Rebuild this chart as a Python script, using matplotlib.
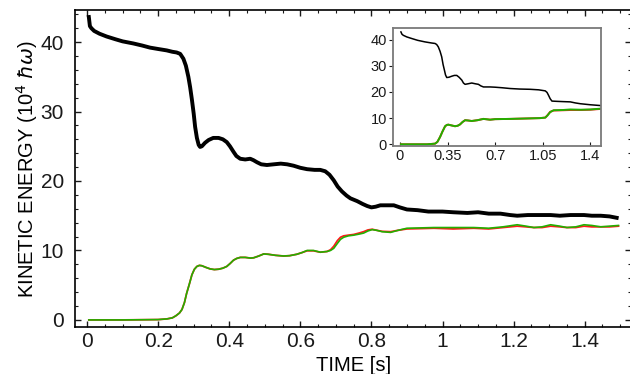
import numpy as np
import matplotlib
matplotlib.use("Agg")
from matplotlib import pyplot as plt
from matplotlib.ticker import MultipleLocator

plt.rcParams['font.family'] = ['Liberation Sans', 'DejaVu Sans']

# main panel: (time [s], kinetic energy [1e4 hbar*omega])
main_total = [
    (0.005, 43.6), (0.008, 42.3), (0.012, 42.0), (0.02, 41.6), (0.035, 41.2),
    (0.055, 40.8), (0.08, 40.4), (0.1, 40.1), (0.13, 39.8), (0.155, 39.5),
    (0.177, 39.2), (0.2, 39.0), (0.224, 38.8), (0.24, 38.6), (0.252, 38.5),
    (0.262, 38.3), (0.271, 37.6), (0.278, 36.6), (0.285, 35.0), (0.29, 33.5),
    (0.295, 31.7), (0.30, 29.7), (0.304, 27.8), (0.309, 26.2), (0.314, 25.2),
    (0.318, 24.9), (0.323, 25.0), (0.332, 25.5), (0.342, 25.9), (0.355, 26.2),
    (0.37, 26.2), (0.382, 26.0), (0.393, 25.6), (0.402, 25.0), (0.412, 24.2),
    (0.42, 23.6), (0.431, 23.2), (0.445, 23.1), (0.459, 23.2), (0.468, 23.0),
    (0.478, 22.7), (0.49, 22.4), (0.506, 22.3), (0.525, 22.4), (0.545, 22.5),
    (0.563, 22.4), (0.581, 22.2), (0.6, 21.9), (0.619, 21.7), (0.64, 21.6),
    (0.656, 21.6), (0.67, 21.4), (0.682, 20.9), (0.694, 20.1), (0.705, 19.2),
    (0.717, 18.5), (0.73, 17.9), (0.741, 17.5), (0.76, 17.1), (0.775, 16.7),
    (0.788, 16.4), (0.8, 16.2), (0.812, 16.3), (0.825, 16.5), (0.845, 16.5),
    (0.863, 16.5), (0.88, 16.2), (0.9, 15.9), (0.93, 15.8), (0.96, 15.6),
    (1.0, 15.6), (1.03, 15.5), (1.07, 15.4), (1.1, 15.5), (1.13, 15.3),
    (1.163, 15.3), (1.19, 15.1), (1.21, 15.0), (1.24, 15.1), (1.27, 15.1),
    (1.304, 15.1), (1.33, 15.0), (1.36, 15.1), (1.398, 15.1), (1.42, 15.0),
    (1.445, 15.0), (1.47, 14.9), (1.49, 14.7),
]

main_green = [
    (0.005, 0.0), (0.1, 0.0), (0.2, 0.05), (0.225, 0.15), (0.24, 0.3),
    (0.25, 0.6), (0.26, 1.0), (0.267, 1.5), (0.274, 2.5), (0.28, 3.8),
    (0.288, 5.2), (0.295, 6.5), (0.302, 7.3), (0.309, 7.7), (0.316, 7.85),
    (0.323, 7.8), (0.335, 7.55), (0.346, 7.35), (0.358, 7.25), (0.37, 7.3),
    (0.382, 7.45), (0.393, 7.7), (0.402, 8.1), (0.412, 8.6), (0.421, 8.85),
    (0.431, 9.0), (0.445, 9.0), (0.46, 8.9), (0.469, 8.95), (0.483, 9.2),
    (0.497, 9.5), (0.51, 9.45), (0.53, 9.3), (0.553, 9.2), (0.57, 9.25),
    (0.59, 9.45), (0.605, 9.7), (0.619, 10.0), (0.637, 10.0), (0.656, 9.75),
    (0.675, 9.85), (0.685, 10.0), (0.694, 10.3), (0.704, 11.0), (0.713, 11.6),
    (0.722, 11.9), (0.735, 12.1), (0.75, 12.2), (0.765, 12.35), (0.778, 12.5),
    (0.79, 12.8), (0.802, 13.0), (0.815, 12.9), (0.83, 12.7), (0.854, 12.6),
    (0.875, 12.9), (0.9, 13.2), (0.94, 13.25), (0.976, 13.3), (1.03, 13.3),
    (1.088, 13.3), (1.13, 13.2), (1.17, 13.4), (1.21, 13.7), (1.235, 13.5),
    (1.257, 13.3), (1.28, 13.4), (1.304, 13.7), (1.33, 13.5), (1.35, 13.3),
    (1.375, 13.4), (1.398, 13.7), (1.42, 13.6), (1.445, 13.4), (1.47, 13.5),
    (1.495, 13.6),
]

main_red = [
    (0.005, 0.0), (0.1, 0.0), (0.2, 0.05), (0.225, 0.15), (0.24, 0.3),
    (0.25, 0.6), (0.26, 1.0), (0.267, 1.5), (0.274, 2.5), (0.28, 3.8),
    (0.288, 5.2), (0.295, 6.5), (0.302, 7.3), (0.309, 7.7), (0.316, 7.85),
    (0.323, 7.8), (0.335, 7.55), (0.346, 7.35), (0.358, 7.25), (0.37, 7.3),
    (0.382, 7.45), (0.393, 7.7), (0.402, 8.1), (0.412, 8.6), (0.421, 8.85),
    (0.431, 9.0), (0.445, 9.0), (0.46, 8.9), (0.469, 8.95), (0.483, 9.2),
    (0.497, 9.5), (0.51, 9.45), (0.53, 9.3), (0.553, 9.2), (0.57, 9.25),
    (0.59, 9.45), (0.605, 9.7), (0.619, 9.95), (0.637, 9.95), (0.656, 9.75),
    (0.675, 9.85), (0.685, 10.1), (0.694, 10.6), (0.704, 11.4), (0.713, 11.9),
    (0.722, 12.1), (0.735, 12.2), (0.75, 12.3), (0.765, 12.5), (0.778, 12.7),
    (0.79, 12.95), (0.802, 13.05), (0.815, 12.9), (0.83, 12.75), (0.854, 12.7),
    (0.875, 12.9), (0.9, 13.1), (0.94, 13.15), (0.976, 13.2), (1.03, 13.1),
    (1.088, 13.2), (1.13, 13.1), (1.17, 13.3), (1.21, 13.5), (1.235, 13.4),
    (1.257, 13.3), (1.28, 13.3), (1.304, 13.5), (1.33, 13.4), (1.35, 13.3),
    (1.375, 13.3), (1.398, 13.5), (1.42, 13.4), (1.445, 13.4), (1.47, 13.4),
    (1.495, 13.5),
]

# inset: longer run
inset_total = [
    (0.007, 42.9), (0.015, 42.0), (0.025, 41.6), (0.05, 41.0), (0.086, 40.4),
    (0.13, 39.7), (0.184, 39.1), (0.23, 38.7), (0.258, 38.5), (0.27, 38.1),
    (0.282, 37.2), (0.295, 35.5), (0.307, 33.4), (0.317, 30.5), (0.327, 28.3),
    (0.335, 26.5), (0.344, 25.5), (0.36, 25.6), (0.381, 26.0), (0.4, 26.3),
    (0.418, 26.3), (0.435, 25.6), (0.455, 24.5), (0.467, 23.4), (0.479, 22.9),
    (0.5, 23.1), (0.528, 23.4), (0.555, 23.1), (0.577, 22.9), (0.595, 22.3),
    (0.614, 21.9), (0.663, 21.9), (0.7, 21.8), (0.75, 21.6), (0.81, 21.3),
    (0.88, 21.1), (0.958, 21.0), (1.02, 20.8), (1.069, 20.4), (1.082, 19.8),
    (1.093, 18.7), (1.105, 17.4), (1.118, 16.5), (1.155, 16.4), (1.2, 16.3),
    (1.253, 16.2), (1.29, 15.8), (1.326, 15.5), (1.4, 15.1), (1.474, 14.8),
]

inset_green = [
    (0.007, 0.0), (0.2, 0.0), (0.258, 0.25), (0.275, 0.9), (0.295, 2.8),
    (0.312, 4.8), (0.332, 6.9), (0.345, 7.4), (0.356, 7.5), (0.38, 7.2),
    (0.405, 6.9), (0.425, 7.1), (0.442, 7.6), (0.46, 8.5), (0.479, 9.2),
    (0.5, 9.1), (0.528, 8.9), (0.57, 9.2), (0.614, 9.7), (0.663, 9.4),
    (0.7, 9.6), (0.81, 9.7), (0.958, 9.9), (1.03, 10.0), (1.069, 10.2),
    (1.085, 11.0), (1.105, 12.3), (1.13, 13.0), (1.2, 13.1), (1.253, 13.3),
    (1.33, 13.2), (1.4, 13.3), (1.474, 13.6),
]

inset_red = [
    (0.007, 0.0), (0.2, 0.0), (0.258, 0.25), (0.275, 0.9), (0.295, 2.8),
    (0.312, 4.8), (0.332, 6.9), (0.345, 7.4), (0.356, 7.5), (0.38, 7.2),
    (0.405, 6.9), (0.425, 7.1), (0.442, 7.6), (0.46, 8.5), (0.479, 9.2),
    (0.5, 9.1), (0.528, 8.9), (0.57, 9.2), (0.614, 9.7), (0.663, 9.4),
    (0.7, 9.6), (0.81, 9.7), (0.958, 9.9), (1.03, 10.0), (1.069, 10.2),
    (1.085, 11.1), (1.105, 12.4), (1.13, 12.9), (1.2, 13.0), (1.253, 13.1),
    (1.33, 13.1), (1.4, 13.2), (1.474, 13.5),
]

main_xticks = [0, 0.2, 0.4, 0.6, 0.8, 1, 1.2, 1.4]
main_xticklabels = ['0', '0.2', '0.4', '0.6', '0.8', '1', '1.2', '1.4']
inset_xticks = [0, 0.35, 0.7, 1.05, 1.4]
inset_xticklabels = ['0', '0.35', '0.7', '1.05', '1.4']

GREEN = '#22b000'
RED = '#ff1a1a'


def xy(pairs):
    a = np.array(pairs)
    return a[:, 0], a[:, 1]


fig = plt.figure(figsize=(6.3, 3.74), dpi=100)
# right edge runs off the canvas so only the right-hand ticks show
ax = fig.add_axes([0.119, 0.126, 0.883, 0.847])

ax.plot(*xy(main_red), color=RED, lw=1.3)
ax.plot(*xy(main_green), color=GREEN, lw=1.2)
ax.plot(*xy(main_total), color='black', lw=2.8)

ax.set_xlim(-0.034, 1.531)
ax.set_ylim(-1.0, 44.6)
ax.set_xticks(main_xticks)
ax.set_xticklabels(main_xticklabels)
ax.set_yticks([0, 10, 20, 30, 40])
ax.xaxis.set_minor_locator(MultipleLocator(0.05))
ax.yaxis.set_minor_locator(MultipleLocator(2))
ax.tick_params(which='both', direction='in', top=True, right=True,
               labelsize=15, colors='#1a1a1a')
ax.tick_params(which='major', length=4, width=1)
ax.tick_params(which='minor', length=2.5, width=0.8)
ax.tick_params(axis='x', pad=4)
ax.tick_params(axis='y', pad=8)
for sp in ax.spines.values():
    sp.set_linewidth(1.2)

ax.set_xlabel('TIME [s]', fontsize=14.5, labelpad=3.5)
ax.set_ylabel(r'KINETIC ENERGY (10$^4$ $\hbar\omega$)', fontsize=14.5, labelpad=0)

# inset
ins = fig.add_axes([0.6243, 0.6096, 0.3297, 0.3155])
ins.plot(*xy(inset_red), color=RED, lw=1.4)
ins.plot(*xy(inset_green), color=GREEN, lw=1.4)
ins.plot(*xy(inset_total), color='black', lw=1.1)
ins.set_xlim(-0.049, 1.479)
ins.set_ylim(-0.65, 44.4)
ins.set_xticks(inset_xticks)
ins.set_xticklabels(inset_xticklabels)
ins.set_yticks([0, 10, 20, 30, 40])
ins.tick_params(axis='x', direction='in', length=3, width=0.8, pad=2,
                labelsize=10.5, colors='#1a1a1a')
ins.tick_params(axis='y', direction='out', length=3, width=0.8, pad=1.5,
                labelsize=10.5, colors='#1a1a1a')
for sp in ins.spines.values():
    sp.set_color('#7a7a7a')
    sp.set_linewidth(1.3)

fig.savefig('out.png', dpi=100)
